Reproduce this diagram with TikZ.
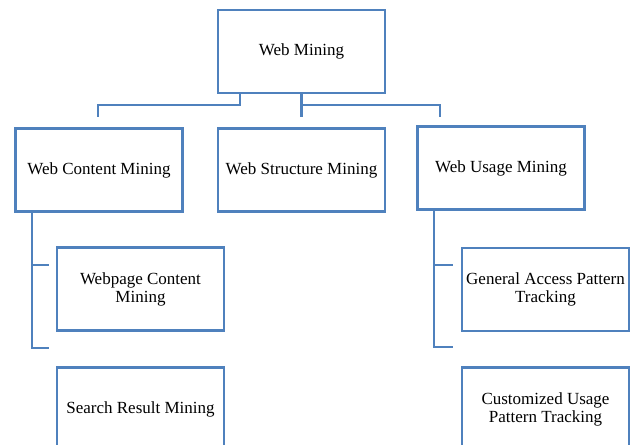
\documentclass[tikz,border=0pt]{standalone}
\usepackage{fontspec}
\setmainfont{Liberation Serif}
\definecolor{boxblue}{RGB}{79,129,189}
\begin{document}
\begin{tikzpicture}[x=1pt,y=-1pt,
    box/.style={draw=boxblue, line width=2.2pt, minimum width=167pt, minimum height=83pt,
        align=center, inner sep=1pt, font=\fontsize{17}{18}\selectfont},
    link/.style={draw=boxblue, line width=2.2pt}]
    \useasboundingbox (0,0) rectangle (633,445);
    \clip (0,0) rectangle (633,445);
    \node [box] (wm) at (301.5,51.5) {Web Mining};
    \node [box] (wcm) at (99,170) {Web Content Mining};
    \node [box] (wsm) at (301.5,170) {Web Structure Mining};
    \node [box] (wum) at (501,168) {Web Usage Mining};
    \node [box] (wpc) at (140.5,289) {Webpage Content\\Mining};
    \node [box] (srm) at (140.5,409) {Search Result Mining};
    \node [box] (gap) at (545.5,289.5) {General Access Pattern\\Tracking};
    \node [box] (cup) at (545.5,409) {Customized Usage\\Pattern Tracking};
    \coordinate (wcmstub) at (98,117);
    \coordinate (wsmstub) at (301.5,117);
    \coordinate (wumstub) at (440,117);
    \draw[link] (wm.south -| 240,0) -- (240,105) -| (wcmstub);
    \draw[link] (wm.south) -- (wsmstub);
    \draw[link] (301.5,105) -| (wumstub);
    \draw[link] (wcm.south -| 32,0) -- (32,348) -- (49,348);
    \draw[link] (32,265) -- (49,265);
    \draw[link] (wum.south -| 434,0) -- (434,347) -- (453,347);
    \draw[link] (434,265) -- (453,265);
\end{tikzpicture}
\end{document}
